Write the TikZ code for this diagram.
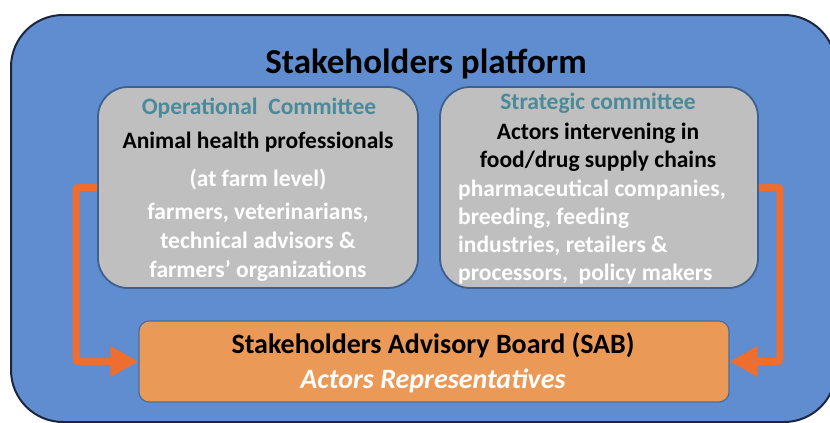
\documentclass[tikz,border=0pt]{standalone}
\usepackage{fontspec}
\setmainfont{Carlito}
\usetikzlibrary{arrows.meta}
\definecolor{outerblue}{RGB}{96,141,207}
\definecolor{outerline}{RGB}{28,38,62}
\definecolor{greyfill}{RGB}{191,191,191}
\definecolor{greyline}{RGB}{62,96,140}
\definecolor{sabfill}{RGB}{235,153,86}
\definecolor{sabline}{RGB}{72,110,160}
\definecolor{flowcol}{RGB}{237,110,46}
\definecolor{tealtxt}{RGB}{74,138,154}
\tikzset{
  panel/.style={draw=greyline, line width=1.8pt, fill=greyfill, rounded corners=30pt, inner sep=0pt},
  sabbox/.style={draw=sabline, line width=1.2pt, fill=sabfill, rounded corners=10pt, inner sep=0pt},
  txt/.style={anchor=base, inner sep=0pt, font=\fontsize{23.5}{28}\selectfont\bfseries},
  hdr/.style={txt, text=tealtxt},
  blk/.style={txt, text=black},
  wht/.style={txt, text=white},
  whtl/.style={wht, anchor=base west},
  flow/.style={draw=flowcol, line width=7pt, rounded corners=2pt, -{Triangle[length=28pt,width=29pt]}}
}
\begin{document}
\begin{tikzpicture}[x=1pt,y=-1pt]
\useasboundingbox (0,0) rectangle (830,423);
\clip (0,0) rectangle (830,423);
% outer platform
\draw[draw=outerline, line width=2pt, fill=outerblue, rounded corners=52pt] (11,15) rectangle (836,422);
\node[anchor=base, inner sep=0pt, font=\fontsize{35}{40}\selectfont\bfseries] (title) at (426,73) {Stakeholders platform};
% panels
\node[panel, minimum width=320pt, minimum height=201pt] (opc) at (258,187.5) {};
\node[panel, minimum width=318pt, minimum height=201pt] (stc) at (599,187.5) {};
\node[sabbox, minimum width=590pt, minimum height=81pt] (sab) at (434,361.5) {};
% left panel text
\node[hdr] (opt) at (259,114) {Operational\ \ Committee};
\node[blk] (ahp) at (258,148) {Animal health professionals};
\node[wht] (afl) at (258,186) {(at farm level)};
\node[wht] (l1) at (258,219) {farmers, veterinarians,};
\node[wht] (l2) at (258,248) {technical advisors \&};
\node[wht] (l3) at (258,277) {farmers’ organizations};
% right panel text
\node[hdr] (stt) at (598,109) {Strategic committee};
\node[blk] (r1) at (598,139) {Actors intervening in};
\node[blk] (r2) at (598,167) {food/drug supply chains};
\node[whtl] (r3) at (458,196) {pharmaceutical companies,};
\node[whtl] (r4) at (458,224) {breeding, feeding};
\node[whtl] (r5) at (458,252) {industries, retailers \&};
\node[whtl] (r6) at (458,280) {processors,\ \ policy makers};
% SAB text
\node[anchor=base, inner sep=0pt, font=\fontsize{28}{32}\selectfont\bfseries] (sabt) at (433,353) {Stakeholders Advisory Board (SAB)};
\node[anchor=base, inner sep=0pt, text=white, font=\fontsize{28}{32}\selectfont\bfseries\itshape] (sabs) at (433,388) {Actors Representatives};
% connectors
\draw[flow] (opc.west) -- ++(-21,0) |- (sab.west);
\draw[flow] (stc.east) -- ++(21,0) |- (sab.east);
\end{tikzpicture}
\end{document}
